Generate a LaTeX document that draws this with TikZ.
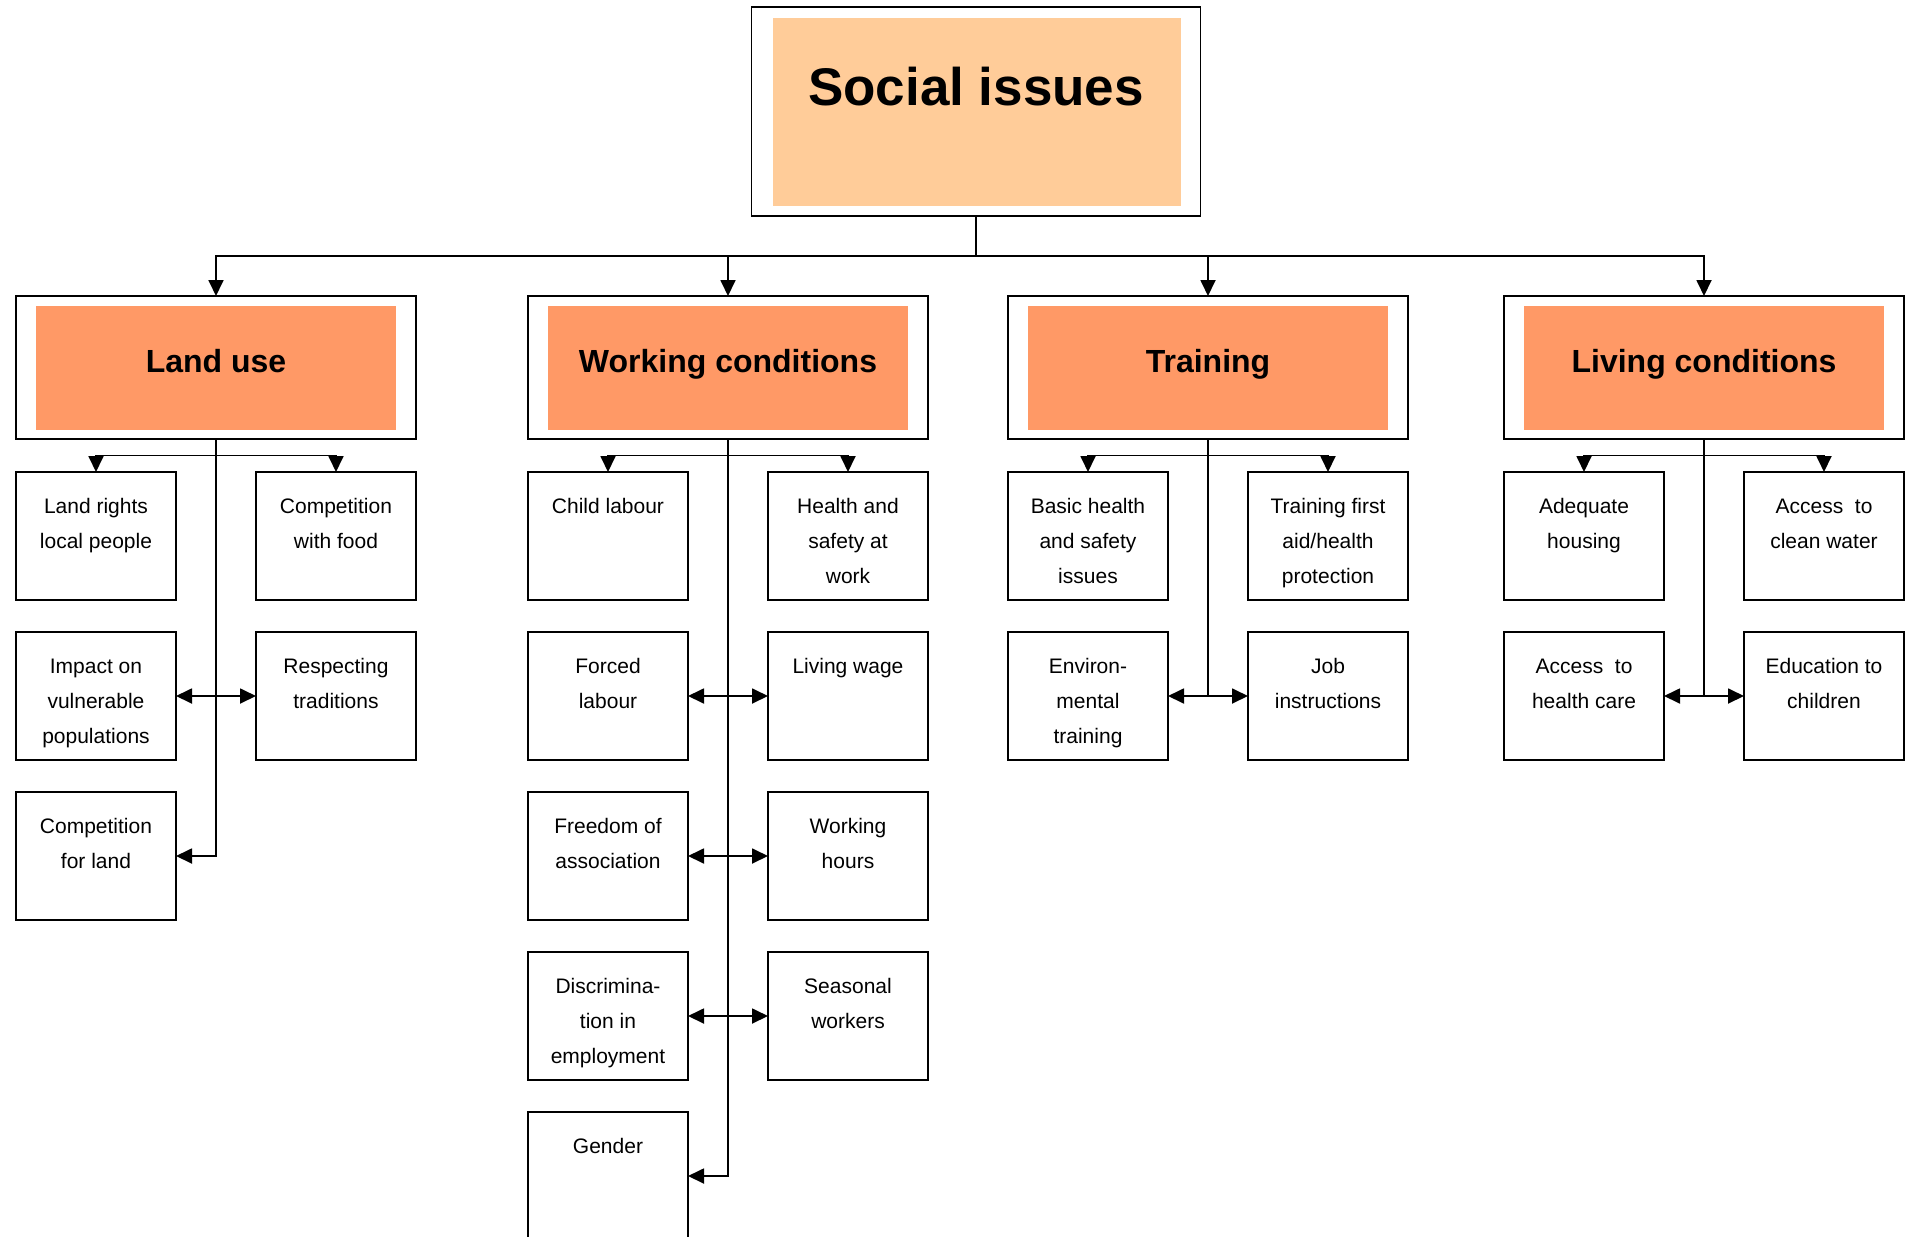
\documentclass[tikz,border=0pt]{standalone}
\usepackage{fontspec}
\setmainfont{Liberation Sans}
\usetikzlibrary{arrows.meta}
\definecolor{peach}{HTML}{FFCC99}
\definecolor{salmon}{HTML}{FF9966}
% multi-line cell whose reference point is the first baseline
\newcommand\cellstack[1]{\begin{tabular}[t]{@{}c@{}}#1\end{tabular}}
% small item box with its text hanging from the top edge
\newcommand\issuebox[3]{%
  \node[sbox] (#1) at (#2) {};
  \node[stext] at ([yshift=-20.5pt]#1.north) {\cellstack{#3}};}
% category header: framed box with a coloured panel and bold title
\newcommand\header[3]{%
  \node[hbox] (#1) at (#2,367.5) {};
  \node[hfill] at (#2,368) {};
  \node[htext] at (#2,372.7) {#3};}

\begin{document}
\begin{tikzpicture}[x=0.5pt,y=-0.5pt,
  line width=0.9pt,
  sbox/.style={draw, minimum width=80pt, minimum height=64pt, inner sep=0, outer sep=0},
  hbox/.style={draw, fill=white, minimum width=200pt, minimum height=71.5pt, inner sep=0, outer sep=0},
  hfill/.style={fill=salmon, minimum width=180pt, minimum height=62pt, inner sep=0},
  htext/.style={anchor=base, inner sep=0, font=\fontsize{16}{19}\selectfont\bfseries},
  stext/.style={anchor=base, inner sep=0, font=\fontsize{10.5}{17.7}\selectfont},
  tip/.tip={Triangle[length=8pt,width=7.5pt]},
  arr/.style={-tip},
  darr/.style={tip-tip},
]
\useasboundingbox (0,0) rectangle (1913,1237);

% root
\node[draw, fill=white, minimum width=224.5pt, minimum height=104.7pt, inner sep=0, outer sep=0]
  (social) at (976,111.5) {};
\node[fill=peach, minimum width=204pt, minimum height=93.8pt, inner sep=0] at (977,112) {};
\node[anchor=base, inner sep=0, font=\fontsize{26.5}{32}\selectfont\bfseries] at (976,105) {Social issues};

% categories
\header{land}{216}{Land use}
\header{work}{728}{Working conditions}
\header{train}{1208}{Training}
\header{live}{1704}{Living conditions}

% Land use items
\issuebox{lr}{96,536}{Land rights\\local people}
\issuebox{cf}{336,536}{Competition\\with food}
\issuebox{imp}{96,696}{Impact on\\vulnerable\\populations}
\issuebox{resp}{336,696}{Respecting\\traditions}
\issuebox{cland}{96,856}{Competition\\for land}

% Working conditions items
\issuebox{cl}{608,536}{Child labour}
\issuebox{hs}{848,536}{Health and\\safety at\\work}
\issuebox{fl}{608,696}{Forced\\labour}
\issuebox{lw}{848,696}{Living wage}
\issuebox{fa}{608,856}{Freedom of\\association}
\issuebox{wh}{848,856}{Working\\hours}
\issuebox{dis}{608,1016}{Discrimina-\\tion in\\employment}
\issuebox{sw}{848,1016}{Seasonal\\workers}
\issuebox{gen}{608,1176}{Gender}

% Training items
\issuebox{bh}{1088,536}{Basic health\\and safety\\issues}
\issuebox{tf}{1328,536}{Training first\\aid/health\\protection}
\issuebox{env}{1088,696}{Environ-\\mental\\training}
\issuebox{job}{1328,696}{Job\\instructions}

% Living conditions items
\issuebox{ah}{1584,536}{Adequate\\housing}
\issuebox{cw}{1824,536}{Access\ \ to\\clean water}
\issuebox{hc}{1584,696}{Access\ \ to\\health care}
\issuebox{edu}{1824,696}{Education to\\children}

% root to categories
\draw[arr] (social.south) -- ++(0,40) -| (land.north);
\draw[arr] (social.south) -- ++(0,40) -| (work.north);
\draw[arr] (social.south) -- ++(0,40) -| (train.north);
\draw[arr] (social.south) -- ++(0,40) -| (live.north);

% Land use branches
\draw[arr] (land.south) -- ++(0,16.5) -| (lr.north);
\draw[arr] (land.south) -- ++(0,16.5) -| (cf.north);
\draw[arr] (land.south) |- (cland.east);
\draw[darr] (imp.east) -- (resp.west);

% Working conditions branches
\draw[arr] (work.south) -- ++(0,16.5) -| (cl.north);
\draw[arr] (work.south) -- ++(0,16.5) -| (hs.north);
\draw[arr] (work.south) |- (gen.east);
\draw[darr] (fl.east) -- (lw.west);
\draw[darr] (fa.east) -- (wh.west);
\draw[darr] (dis.east) -- (sw.west);

% Training branches
\draw[arr] (train.south) -- ++(0,16.5) -| (bh.north);
\draw[arr] (train.south) -- ++(0,16.5) -| (tf.north);
\draw (train.south) -- (train.south |- env.east);
\draw[darr] (env.east) -- (job.west);

% Living conditions branches
\draw[arr] (live.south) -- ++(0,16.5) -| (ah.north);
\draw[arr] (live.south) -- ++(0,16.5) -| (cw.north);
\draw (live.south) -- (live.south |- hc.east);
\draw[darr] (hc.east) -- (edu.west);
\end{tikzpicture}
\end{document}
